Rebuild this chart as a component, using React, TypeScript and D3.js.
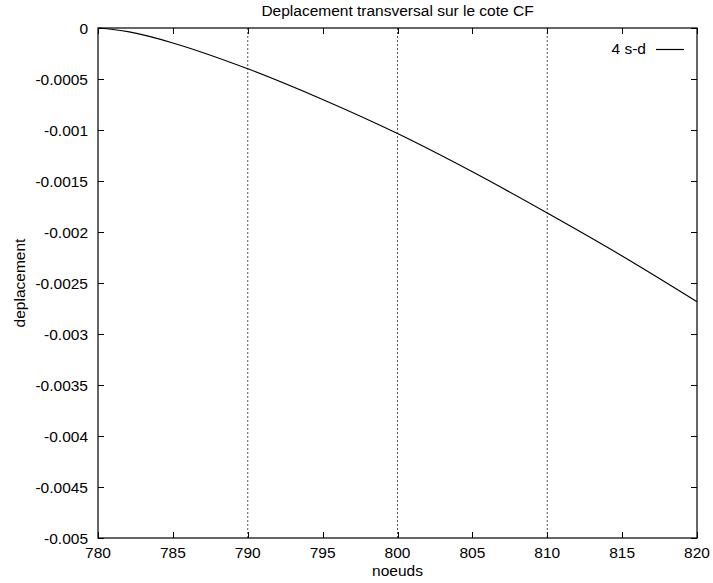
import React, { useRef, useEffect } from "react";
import * as d3 from "d3";

const nodes = [780, 782, 785, 790, 795, 800, 805, 810, 815, 820];
const displacement = [0, -0.000036, -0.000147, -0.0004, -0.000701, -0.001035, -0.00141, -0.001814, -0.002235, -0.002683];
const xTicks = [780, 785, 790, 795, 800, 805, 810, 815, 820];
const yTicks = [0, -0.0005, -0.001, -0.0015, -0.002, -0.0025, -0.003, -0.0035, -0.004, -0.0045, -0.005];
const gridX = [790, 800, 810];
const seriesName = "4 s-d";

const width = 713;
const height = 583;
const margin = { left: 98, right: 16, top: 28, bottom: 45 };
const font = "'Liberation Sans', Arial, sans-serif";
const fontSize = 15.5;

export default function App() {
  const svgRef = useRef<SVGSVGElement>(null);

  useEffect(() => {
    if (!svgRef.current) return;
    const svg = d3.select(svgRef.current);
    svg.selectAll("*").remove();

    const x = d3.scaleLinear().domain([780, 820]).range([margin.left, width - margin.right]);
    const y = d3.scaleLinear().domain([-0.005, 0]).range([height - margin.bottom, margin.top]);
    const [x0, x1] = x.range();
    const [y1, y0] = y.range();

    svg.append("rect").attr("width", width).attr("height", height).attr("fill", "#fff");

    // dotted grid lines
    svg.selectAll(".grid")
      .data(gridX)
      .enter()
      .append("line")
      .attr("x1", (d) => x(d))
      .attr("x2", (d) => x(d))
      .attr("y1", y0)
      .attr("y2", y1)
      .attr("stroke", "#555")
      .attr("stroke-width", 1)
      .attr("stroke-dasharray", "2,2");

    const tickLen = 6;
    const ticks = svg.append("g").attr("stroke", "#000").attr("stroke-width", 1);
    xTicks.forEach((t) => {
      const px = Math.round(x(t)) + 0.5;
      ticks.append("line").attr("x1", px).attr("x2", px).attr("y1", y1).attr("y2", y1 - tickLen);
      ticks.append("line").attr("x1", px).attr("x2", px).attr("y1", y0).attr("y2", y0 + tickLen);
    });
    yTicks.forEach((t) => {
      const py = Math.round(y(t)) + 0.5;
      ticks.append("line").attr("x1", x0).attr("x2", x0 + tickLen).attr("y1", py).attr("y2", py);
      ticks.append("line").attr("x1", x1).attr("x2", x1 - tickLen).attr("y1", py).attr("y2", py);
    });

    svg.append("rect")
      .attr("x", x0)
      .attr("y", y0)
      .attr("width", x1 - x0)
      .attr("height", y1 - y0)
      .attr("fill", "none")
      .attr("stroke", "#000")
      .attr("stroke-width", 1.2);

    const txt = svg.append("g").attr("font-family", font).attr("font-size", fontSize).attr("fill", "#000");

    txt.selectAll(".xl")
      .data(xTicks)
      .enter()
      .append("text")
      .attr("x", (d) => x(d))
      .attr("y", y1 + 20)
      .attr("text-anchor", "middle")
      .text((d) => d3.format("d")(d));

    txt.selectAll(".yl")
      .data(yTicks)
      .enter()
      .append("text")
      .attr("x", x0 - 10)
      .attr("y", (d) => y(d) + 5.5)
      .attr("text-anchor", "end")
      .text((d) => (d === 0 ? "0" : String(d)));

    txt.append("text")
      .attr("x", (x0 + x1) / 2)
      .attr("y", 16)
      .attr("text-anchor", "middle")
      .text("Deplacement transversal sur le cote CF");

    txt.append("text")
      .attr("x", (x0 + x1) / 2)
      .attr("y", 576)
      .attr("text-anchor", "middle")
      .text("noeuds");

    txt.append("text")
      .attr("transform", `translate(25,${(y0 + y1) / 2}) rotate(-90)`)
      .attr("text-anchor", "middle")
      .text("deplacement");

    // legend
    txt.append("text")
      .attr("x", 646)
      .attr("y", 54)
      .attr("text-anchor", "end")
      .text(seriesName);
    svg.append("line")
      .attr("x1", 656)
      .attr("x2", 684)
      .attr("y1", 49.5)
      .attr("y2", 49.5)
      .attr("stroke", "#000")
      .attr("stroke-width", 1.2);

    const line = d3
      .line<number>()
      .x((_, i) => x(nodes[i]))
      .y((d) => y(d))
      .curve(d3.curveCatmullRom.alpha(0.5));

    svg.append("path")
      .datum(displacement)
      .attr("d", line)
      .attr("fill", "none")
      .attr("stroke", "#000")
      .attr("stroke-width", 1.2);
  }, []);

  return (
    <svg
      ref={svgRef}
      width={width}
      height={height}
      style={{ position: "absolute", left: 0, top: 0, display: "block" }}
    />
  );
}
